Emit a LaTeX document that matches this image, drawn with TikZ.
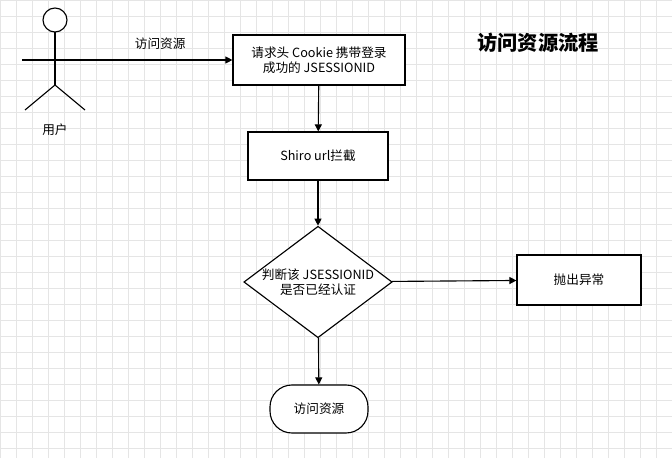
\documentclass[tikz,border=0pt]{standalone}
\usepackage{fontspec}
\setmainfont{Noto Sans CJK SC}
\usetikzlibrary{shapes.geometric,arrows.meta}
\definecolor{gitter}{rgb}{0.9,0.9,0.9}
\tikzset{
  box/.style={draw, thick, fill=white, minimum width=4.3cm, minimum height=1.25cm, align=center, font=\small},
  pfeil/.style={thick, -{Triangle[length=5pt,width=5pt]}},
}
\begin{document}
\begin{tikzpicture}[x=0.025cm,y=-0.025cm]
\useasboundingbox (0,0) rectangle (672,458);
\draw[step=0.4cm, gitter] (0,0) rectangle (672,458);
\draw[step=0.4cm, gitter] (0cm,0cm) grid (16.8cm,-11.45cm);
\node[font=\Large\bfseries] (titel) at (538,43) {访问资源流程};
% Benutzer
\draw[thick, fill=white] (55,20) circle (12);
\draw[thick] (55,32) -- (55,85);
\draw[thick] (22,60) -- (88,60);
\draw[thick] (25,110) -- (55,85) -- (85,110);
\coordinate (hand) at (88,60);
\node[font=\small] (user) at (55,130) {用户};
% Kaesten
\node[box] (kopf) at (319,60) {请求头 Cookie 携带登录\\成功的 JSESSIONID};
\node[box, minimum width=3.5cm, minimum height=1.2cm] (shiro) at (318,156) {Shiro url拦截};
\node[draw, thick, fill=white, diamond, aspect=1.33, minimum width=3.6cm, minimum height=2.7cm, inner sep=0pt, align=center, font=\small] (pruef) at (318,282) {判断该 JSESSIONID\\是否已经认证};
\node[box, minimum width=3.1cm] (fehler) at (579,280) {抛出异常};
\node[box, minimum width=2.45cm, minimum height=1.2cm, rounded corners=0.55cm] (ziel) at (319,409) {访问资源};
% Pfeile
\draw[pfeil] (hand) -- node[above=4pt, font=\small] {访问资源} (kopf);
\draw[pfeil] (kopf) -- (shiro);
\draw[pfeil] (shiro) -- (pruef);
\draw[pfeil] (pruef) -- (fehler);
\draw[pfeil] (pruef) -- (ziel);
\end{tikzpicture}
\end{document}
